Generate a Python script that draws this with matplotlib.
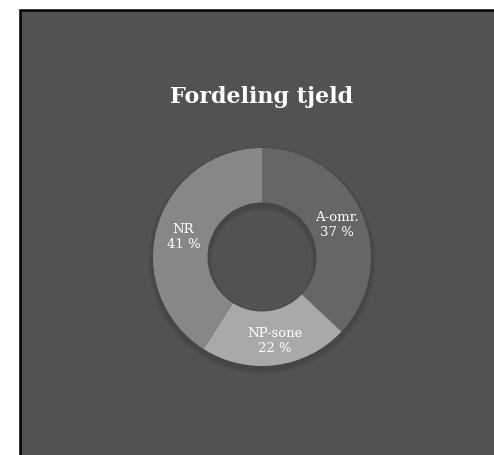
"""
Donut chart: Fordeling tjeld.
"""

import matplotlib

matplotlib.use('Agg')
import matplotlib.pyplot as plt
from matplotlib.patches import Rectangle

# Data
categories = ['A-omr.', 'NP-sone', 'NR']
shares = [37, 22, 41]
colors = ['#666666', '#a9a9a9', '#878787']
# label centres in data units (radius = 1)
label_pos = [(0.69, 0.30), (0.12, -0.76), (-0.72, 0.19)]

W, H = 494, 456
fig = plt.figure(figsize=(W / 100, H / 100), dpi=100)
fig.patch.set_facecolor('white')

# dark slide panel with black border
panel = Rectangle((20 / W, -0.05), 1.1, (H - 10.5) / H + 0.05,
                  transform=fig.transFigure, facecolor='#525252',
                  edgecolor='black', linewidth=1.8, zorder=-1)
fig.patches.append(panel)

fig.text(262 / W, 1 - 97 / H, 'Fordeling tjeld', ha='center', va='center',
         color='white', fontsize=16, fontweight='bold', family='DejaVu Serif')

# pie axes: centre (262, 258) px, radius 109 px
size = 240
cx, cy = 262, 258
ax = fig.add_axes([(cx - size / 2) / W, 1 - (cy + size / 2) / H, size / W, size / H])
ax.set_zorder(2)
ax.patch.set_visible(False)
ax.set_aspect('equal')
ax.axis('off')

# soft shadow under the ring
for i, a in enumerate([0.06, 0.05, 0.04]):
  ax.pie([1], radius=1.0 + 0.015 * (i + 1), colors=['black'], center=(0.0, -0.03),
         wedgeprops=dict(width=0.5 + 0.03 * (i + 1), alpha=a, linewidth=0))

ax.pie(shares, colors=colors, startangle=90, counterclock=False, radius=1.0,
       wedgeprops=dict(width=0.5, linewidth=0))

for name, val, (x, y) in zip(categories, shares, label_pos):
  ax.text(x, y, f'{name}\n{val} %', ha='center', va='center', color='white',
          fontsize=9.5, family='DejaVu Serif', linespacing=1.2)

ax.set_xlim(-size / 218, size / 218)
ax.set_ylim(-size / 218, size / 218)

plt.savefig('out.png', dpi=100)
